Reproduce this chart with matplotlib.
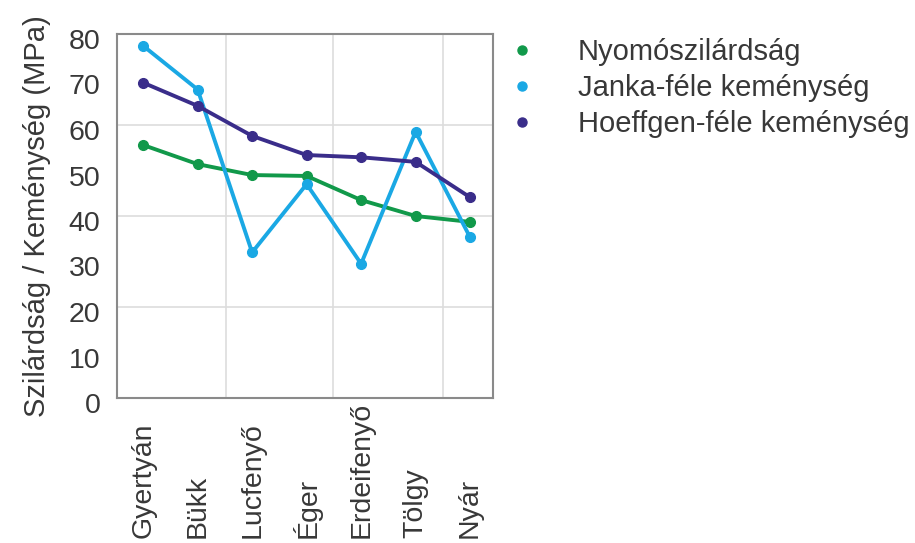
import matplotlib
matplotlib.use("Agg")
import matplotlib.pyplot as plt
from matplotlib.lines import Line2D
from matplotlib.transforms import ScaledTranslation

plt.rcParams['font.family'] = ['Liberation Sans', 'DejaVu Sans']

categories = ["Gyertyán", "Bükk", "Lucfenyő", "Éger", "Erdeifenyő", "Tölgy", "Nyár"]
nyomo = [55.6, 51.4, 49.0, 48.8, 43.5, 40.0, 38.7]
janka = [77.4, 67.8, 32.0, 47.0, 29.5, 58.5, 35.3]
hoeffgen = [69.3, 64.2, 57.6, 53.4, 52.9, 51.9, 44.1]
series_names = ["Nyomószilárdság", "Janka-féle keménység", "Hoeffgen-féle keménység"]
y_ticks = [0, 10, 20, 30, 40, 50, 60, 70, 80]
y_label = "Szilárdság / Keménység (MPa)"

colors = ["#11994a", "#1aa8e4", "#3a2d8a"]
text_color = "#383838"

fig = plt.figure(figsize=(9.15, 5.43), dpi=100)
ax = fig.add_axes([117/915, 1 - 398/543, 376/915, 364/543])

x = list(range(len(categories)))
for vals, c in zip([nyomo, janka, hoeffgen], colors):
    ax.plot(x, vals, color=c, lw=2.8, marker='o', ms=7, zorder=3)

ax.set_xlim(-0.48, 6.42)
ax.set_ylim(0, 80)

for yv in [20, 40, 60]:
    ax.axhline(yv, color="#dddddd", lw=1.2, zorder=1)
for xv in [1.52, 3.48, 5.5]:
    ax.axvline(xv, color="#dddddd", lw=1.2, zorder=1)

for s in ax.spines.values():
    s.set_color("#8a8a8a")
    s.set_linewidth(1.5)

ax.set_yticks(y_ticks)
ax.set_yticklabels([str(v) for v in y_ticks], fontsize=20.5, color=text_color)
ax.tick_params(axis='y', length=0, pad=12)
off = ScaledTranslation(0, -5/100, fig.dpi_scale_trans)
for lbl in ax.get_yticklabels():
    lbl.set_transform(lbl.get_transform() + off)

ax.set_xticks(x)
ax.set_xticklabels(categories, rotation=90, fontsize=20.5, color=text_color, va='bottom', ha='center')
ax.tick_params(axis='x', length=0, pad=101)

ax.set_ylabel(y_label, fontsize=21, color=text_color, labelpad=13)

handles = [Line2D([], [], color=c, marker='o', ls='none', ms=6.5) for c in colors]
fig.legend(handles, series_names, loc='upper left', bbox_to_anchor=(510/915, 1 - 38/543),
           frameon=False, fontsize=21, handlelength=0.8, handletextpad=1.53,
           labelspacing=0.27, labelcolor=text_color, borderaxespad=0, borderpad=0)

fig.savefig("out.png", dpi=100)
